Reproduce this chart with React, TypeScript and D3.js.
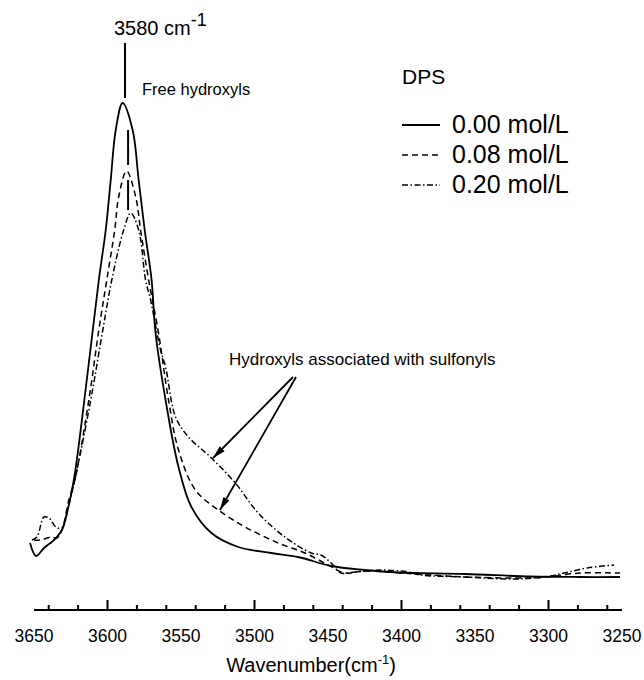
import React from "react";
import * as d3 from "d3";

// Wavenumber (cm-1) and relative absorbance
const solidW = [3652.7, 3648.6, 3643.2, 3636.4, 3631.0, 3627.6, 3622.9, 3614.1, 3605.9, 3601.2, 3597.8, 3594.4, 3589.7, 3582.9, 3578.8, 3574.7, 3570.0, 3567.3, 3560.5, 3551.7, 3542.9, 3529.3, 3511.0, 3488.6, 3470.3, 3447.9, 3424.9, 3402.5, 3357.1, 3312.4, 3278.5, 3251.4];
const solidA = [0.104, 0.078, 0.094, 0.110, 0.130, 0.164, 0.230, 0.430, 0.630, 0.730, 0.830, 0.930, 0.984, 0.930, 0.830, 0.730, 0.630, 0.524, 0.390, 0.256, 0.176, 0.124, 0.096, 0.084, 0.076, 0.058, 0.050, 0.045, 0.042, 0.037, 0.036, 0.036];

const dashW = [3650.0, 3645.3, 3638.5, 3634.4, 3631.0, 3626.3, 3622.2, 3612.7, 3605.9, 3600.5, 3595.1, 3592.4, 3587.0, 3580.8, 3577.5, 3572.0, 3565.3, 3558.5, 3551.7, 3540.2, 3524.6, 3506.3, 3483.9, 3465.6, 3450.0, 3438.5, 3424.9, 3391.0, 3357.1, 3312.4, 3300.8, 3278.5, 3255.4, 3251.4];
const dashA = [0.110, 0.110, 0.116, 0.114, 0.130, 0.190, 0.230, 0.390, 0.530, 0.630, 0.730, 0.796, 0.848, 0.796, 0.730, 0.630, 0.524, 0.390, 0.290, 0.210, 0.170, 0.136, 0.104, 0.084, 0.060, 0.044, 0.048, 0.042, 0.036, 0.034, 0.036, 0.044, 0.044, 0.044];

const dotW = [3651.4, 3648.0, 3643.2, 3639.8, 3635.1, 3631.0, 3626.3, 3620.8, 3611.4, 3603.2, 3597.1, 3589.0, 3584.2, 3578.8, 3574.1, 3570.7, 3563.9, 3560.5, 3553.7, 3544.9, 3529.3, 3513.1, 3497.5, 3479.3, 3461.5, 3454.8, 3447.9, 3441.2, 3431.7, 3414.1, 3395.8, 3386.9, 3357.1, 3323.2, 3302.9, 3289.3, 3273.6, 3255.4];
const dotA = [0.110, 0.116, 0.156, 0.154, 0.136, 0.134, 0.180, 0.250, 0.390, 0.530, 0.630, 0.730, 0.764, 0.730, 0.630, 0.590, 0.490, 0.456, 0.356, 0.316, 0.274, 0.224, 0.164, 0.116, 0.084, 0.080, 0.064, 0.044, 0.046, 0.050, 0.046, 0.040, 0.036, 0.032, 0.036, 0.044, 0.054, 0.060];

const seriesNames = ["0.00 mol/L", "0.08 mol/L", "0.20 mol/L"];
const seriesDash = ["none", "6,4", "6,2.5,1.5,2.5"];
const tickMajor = [3650, 3600, 3550, 3500, 3450, 3400, 3350, 3300, 3250];

// annotation anchors in data units
const peakLine = { w: 3588.1, a0: 0.994, a1: 1.104 };
const peakMarks = [
  { w: 3586.0, a0: 0.86, a1: 0.93 },
  { w: 3586.0, a0: 0.77, a1: 0.83 },
];
const arrowFrom = { w: 3473.8, a: 0.436 };
const arrowTo = [
  { w: 3528.2, a: 0.274 },
  { w: 3523.5, a: 0.17 },
];

const FONT = "'Liberation Sans', Arial, Helvetica, sans-serif";

export default function App() {
  const W = 644, H = 680;
  const x = d3.scaleLinear().domain([3650, 3250]).range([34, 622]);
  const y = d3.scaleLinear().domain([0, 1]).range([595, 95]);
  const axisY = 610;

  const series = [
    solidW.map((w, i) => [w, solidA[i]]),
    dashW.map((w, i) => [w, dashA[i]]),
    dotW.map((w, i) => [w, dotA[i]]),
  ] as [number, number][][];

  const line = d3
    .line<[number, number]>()
    .x((d) => x(d[0]))
    .y((d) => y(d[1]))
    .curve(d3.curveCatmullRom.alpha(0.5));

  const allTicks = x.ticks(16);

  const arrowHead = (fx: number, fy: number, tx: number, ty: number) => {
    const ang = Math.atan2(ty - fy, tx - fx);
    const L = 13, Wd = 3.5;
    const bx = tx - L * Math.cos(ang), by = ty - L * Math.sin(ang);
    const px = -Math.sin(ang) * Wd, py = Math.cos(ang) * Wd;
    return `M${tx},${ty}L${bx + px},${by + py}L${bx - px},${by - py}Z`;
  };

  return (
    <svg width={W} height={H} style={{ position: "absolute", left: 0, top: 0, background: "#fff" }} fontFamily={FONT}>
      <rect width={W} height={H} fill="#fff" />
      {series.map((s, i) => (
        <path key={i} d={line(s) || ""} fill="none" stroke="#000" strokeWidth={i === 0 ? 1.8 : 1.5} strokeDasharray={seriesDash[i]} />
      ))}

      {/* axis */}
      <line x1={x(3650)} x2={x(3250)} y1={axisY} y2={axisY} stroke="#000" strokeWidth={2} />
      {allTicks.map((t) => {
        const major = tickMajor.includes(t);
        return (
          <line key={t} x1={x(t)} x2={x(t)} y1={axisY} y2={axisY - (major ? 10 : 5)} stroke="#000" strokeWidth={2} />
        );
      })}
      {tickMajor.map((t) => (
        <text key={t} x={x(t)} y={axisY + 32} textAnchor="middle" fontSize={17.5}>
          {t}
        </text>
      ))}
      <text x={311} y={672} textAnchor="middle" fontSize={20}>
        Wavenumber(cm<tspan fontSize={13} dy={-8}>-1</tspan>
        <tspan dy={8}>)</tspan>
      </text>

      {/* peak annotation */}
      <text x={114} y={35} fontSize={20}>
        3580 cm<tspan fontSize={18} dy={-9}>-1</tspan>
      </text>
      <line x1={x(peakLine.w)} x2={x(peakLine.w)} y1={y(peakLine.a1)} y2={y(peakLine.a0)} stroke="#000" strokeWidth={2} />
      {peakMarks.map((m, i) => (
        <line key={i} x1={x(m.w)} x2={x(m.w)} y1={y(m.a1)} y2={y(m.a0)} stroke="#000" strokeWidth={2} />
      ))}
      <text x={142} y={95} fontSize={16.5}>Free hydroxyls</text>

      {/* sulfonyl annotation */}
      <text x={229} y={365} fontSize={17}>Hydroxyls associated with sulfonyls</text>
      {arrowTo.map((t, i) => {
        const fx = x(arrowFrom.w) + i * 3, fy = y(arrowFrom.a);
        const tx = x(t.w), ty = y(t.a);
        return (
          <g key={i}>
            <line x1={fx} y1={fy} x2={tx} y2={ty} stroke="#000" strokeWidth={1.8} />
            <path d={arrowHead(fx, fy, tx, ty)} fill="#000" />
          </g>
        );
      })}

      {/* legend */}
      <text x={402} y={84} fontSize={21}>DPS</text>
      {seriesNames.map((n, i) => (
        <g key={n}>
          <line x1={402} x2={440} y1={125 + i * 30} y2={125 + i * 30} stroke="#000" strokeWidth={i === 0 ? 1.8 : 1.5} strokeDasharray={seriesDash[i]} />
          <text x={452} y={133 + i * 30} fontSize={25}>{n}</text>
        </g>
      ))}
    </svg>
  );
}
